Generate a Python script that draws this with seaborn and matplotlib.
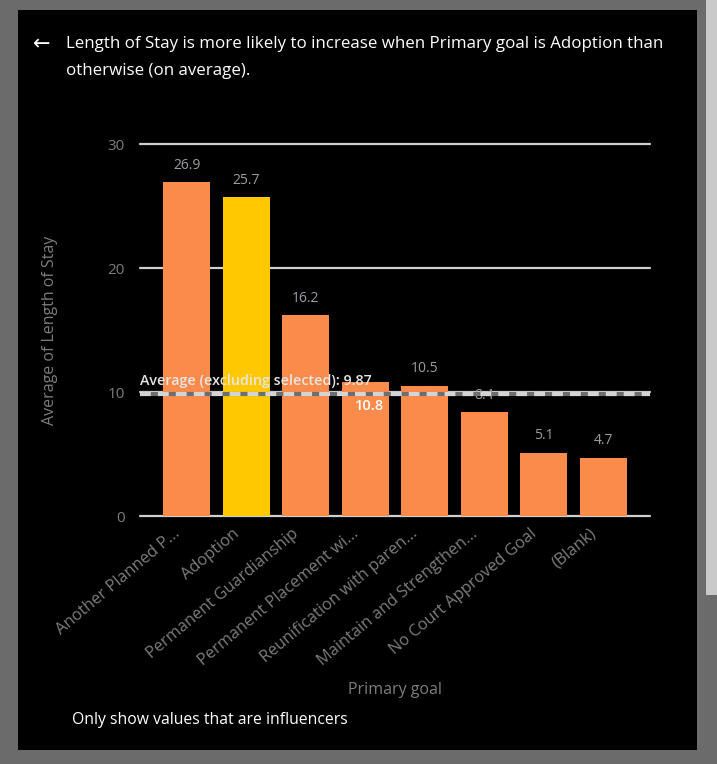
import matplotlib
matplotlib.use("Agg")
import matplotlib.pyplot as plt
import matplotlib.transforms as mtransforms
import seaborn as sns
import pandas as pd
from matplotlib.patches import Rectangle

categories = ["Another Planned P...", "Adoption", "Permanent Guardianship",
              "Permanent Placement wi...", "Reunification with paren...",
              "Maintain and Strengthen...", "No Court Approved Goal", "(Blank)"]
values = [26.9, 25.7, 16.2, 10.8, 10.5, 8.4, 5.1, 4.7]
selected = "Adoption"
average_excl = 9.87
yticks = [0, 10, 20, 30]

ORANGE = "#FA8B4B"
YELLOW = "#FFC800"
GRAY_TXT = "#7d7d7d"

sns.set_theme(style="white")
plt.rcParams["font.family"] = ["Open Sans", "DejaVu Sans"]

W, H = 717, 764
fig = plt.figure(figsize=(W / 100, H / 100), dpi=100)
fig.patch.set_facecolor("#6b6b6b")

def fx(px):
    return px / W

def fy(py):
    return 1 - py / H

# panel background
fig.patches.append(Rectangle((fx(18), fy(750)), fx(697) - fx(18), fy(10) - fy(750),
                             transform=fig.transFigure, facecolor="black", edgecolor="none", zorder=-10))
fig.patches.append(Rectangle((fx(706), fy(595)), fx(717) - fx(706), fy(0) - fy(595),
                             transform=fig.transFigure, facecolor="#c9c9c9", edgecolor="none", zorder=-10))

ax = fig.add_axes([fx(140), fy(516), fx(650) - fx(140), fy(144) - fy(516)])
ax.set_zorder(1)
ax.set_facecolor("none")

df = pd.DataFrame({"goal": categories, "los": values})
palette = {c: (YELLOW if c == selected else ORANGE) for c in categories}
sns.barplot(data=df, x="goal", y="los", hue="goal", palette=palette, legend=False,
            width=0.79, saturation=1, linewidth=0, ax=ax, zorder=3)

ax.set_xlim(-0.79, 7.79)
ax.set_ylim(0, 30)
for s in ax.spines.values():
    s.set_visible(False)

for t in yticks:
    ax.axhline(t, color="#cfcfcf", lw=1.6, zorder=1, clip_on=False)

ax.axhline(average_excl, color="#6e6e6e", lw=3, zorder=4)
ax.axhline(average_excl, color="#d4d4d4", lw=3, ls=(0, (2.6, 1.7)), zorder=5)

ax.set_yticks(yticks)
ax.set_yticklabels([str(t) for t in yticks], color=GRAY_TXT, fontsize=11)
ax.tick_params(axis="y", length=0, pad=11)

ax.set_xticks(range(len(categories)))
ax.set_xticklabels(categories, rotation=40, ha="right", va="center", rotation_mode="anchor",
                   color=GRAY_TXT, fontsize=11.8)
ax.tick_params(axis="x", length=0, pad=0)
offset = mtransforms.ScaledTranslation(-9 / 100, -16 / 100, fig.dpi_scale_trans)
for lbl in ax.get_xticklabels():
    lbl.set_transform(lbl.get_transform() + offset)
ax.set_xlabel("")
ax.set_ylabel("")

for i, v in enumerate(values):
    if categories[i] == "Permanent Placement wi...":
        ax.text(i + 0.08, v - 1.9, f"{v}", ha="center", va="center", color="white",
                fontsize=10.5, fontweight="semibold", zorder=7)
    else:
        ax.text(i, v + 0.75, f"{v}", ha="center", va="bottom", color="#9a9ea4",
                fontsize=10, zorder=2)

ax.text(-0.79, average_excl + 0.45, f"Average (excluding selected): {average_excl}",
        ha="left", va="bottom", color="#e6e6e6", fontsize=10.3, fontweight="semibold", zorder=8)

fig.text(fx(395), fy(690), "Primary goal", ha="center", va="center", color=GRAY_TXT, fontsize=11.5)
fig.text(fx(50), fy(330), "Average of Length of Stay", ha="center", va="center",
         rotation=90, color=GRAY_TXT, fontsize=11.5)

fig.text(fx(33), fy(44), "\u2190", ha="left", va="center", color="white", fontsize=15,
         family=["DejaVu Sans"])
fig.text(fx(66), fy(44), "Length of Stay is more likely to increase when Primary goal is Adoption than",
         ha="left", va="center", color="white", fontsize=12.2)
fig.text(fx(66), fy(71), "otherwise (on average).", ha="left", va="center", color="white", fontsize=12.2)
fig.text(fx(72), fy(720), "Only show values that are influencers", ha="left", va="center",
         color="white", fontsize=11.3)

fig.savefig("out.png", dpi=100, facecolor=fig.get_facecolor())
